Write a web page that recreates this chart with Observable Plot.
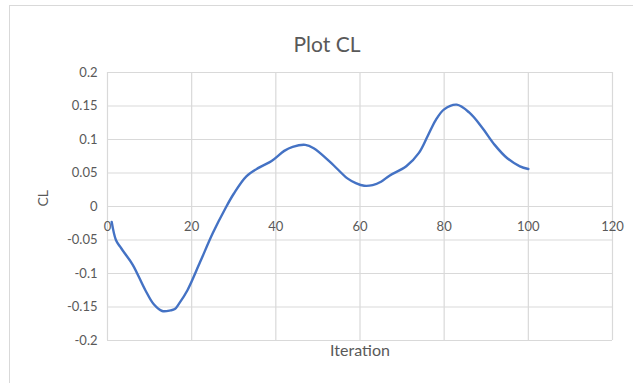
<!DOCTYPE html>
<html>
<head>
<meta charset="utf-8">
<script src="https://cdn.jsdelivr.net/npm/d3@7"></script>
<script src="https://cdn.jsdelivr.net/npm/@observablehq/plot@0.6"></script>
<style>
  html, body { margin: 0; padding: 0; background: #fff; }
  #wrap { position: relative; width: 633px; height: 383px; overflow: hidden; }
  #border { position: absolute; left: 9px; top: 5px; width: 700px; height: 500px;
            border: 1px solid #d9d9d9; box-sizing: border-box; pointer-events: none; }
  svg { display: block; }
</style>
</head>
<body>
<div id="wrap"><div id="border"></div></div>
<script>
// Lift coefficient history over the solver iterations
const iteration = [1, 2, 3, 4, 6, 9, 11, 13, 15, 16, 17, 19, 22, 25, 28, 30, 33, 36, 39,
  42, 44, 47, 49, 53, 57, 59, 61, 63, 65, 67, 71, 74, 76, 78, 80, 83, 86, 89, 92, 95, 98, 100];
const cl = [-0.023, -0.050, -0.060, -0.069, -0.087, -0.125, -0.146, -0.156, -0.155, -0.153,
  -0.145, -0.125, -0.083, -0.040, -0.003, 0.019, 0.045, 0.058, 0.068,
  0.083, 0.089, 0.092, 0.087, 0.066, 0.042, 0.035, 0.031, 0.032, 0.037,
  0.046, 0.060, 0.080, 0.104, 0.129, 0.145, 0.152, 0.140, 0.118, 0.092, 0.072, 0.060, 0.056];

const xTicks = [0, 20, 40, 60, 80, 100, 120];
const yTicks = [-0.2, -0.15, -0.1, -0.05, 0, 0.05, 0.1, 0.15, 0.2];
const yTickLabels = ["-0.2", "-0.15", "-0.1", "-0.05", "0", "0.05", "0.1", "0.15", "0.2"];

const titleText = "Plot CL";
const xLabel = "Iteration";
const yLabel = "CL";

const data = iteration.map((it, i) => ({iteration: it, cl: cl[i]}));
const grid = "#d9d9d9";
const ink = "#595959";

const chart = Plot.plot({
  width: 633,
  height: 383,
  marginLeft: 107,
  marginRight: 21,
  marginTop: 72,
  marginBottom: 43,
  style: {fontFamily: "Lato, 'Open Sans', sans-serif", background: "transparent"},
  x: {domain: [0, 120], axis: null},
  y: {domain: [-0.2, 0.2], axis: null},
  marks: [
    Plot.ruleX(xTicks, {stroke: grid, strokeWidth: 1.2}),
    Plot.ruleY(yTicks, {stroke: grid, strokeWidth: 1.2}),
    Plot.text(yTicks, {x: 0, y: d => d, text: (d, i) => yTickLabels[i], textAnchor: "end",
      dx: -10, fill: ink, fontSize: 13}),
    Plot.text(xTicks, {x: d => d, y: 0, text: d => String(d), dy: 20, fill: ink, fontSize: 13}),
    Plot.line(data, {x: "iteration", y: "cl", stroke: "#4472c4", strokeWidth: 2.4,
      curve: "catmull-rom"}),
    Plot.text([titleText], {frameAnchor: "top", dx: -33, dy: -35, fill: ink, fontSize: 21}),
    Plot.text([xLabel], {frameAnchor: "bottom", dy: 15, fill: ink, fontSize: 16}),
    Plot.text([yLabel], {frameAnchor: "left", dx: -64, rotate: -90, fill: ink, fontSize: 14})
  ]
});
document.getElementById("wrap").prepend(chart);
</script>
</body>
</html>
